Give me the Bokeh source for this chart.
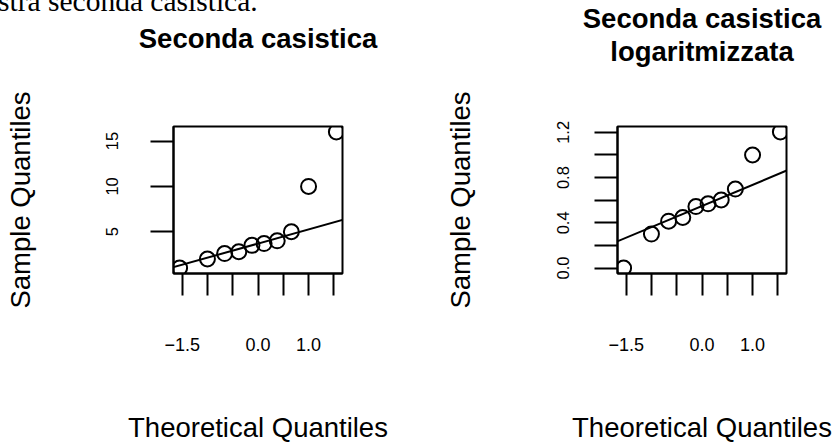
from bokeh.plotting import figure
from bokeh.models import Range1d, FixedTicker, Title, Slope, Div
from bokeh.layouts import row, column
from bokeh.embed import file_html
from bokeh.resources import INLINE

# ---- data ----
theoretical = [-1.55, -1.00, -0.66, -0.38, -0.12, 0.12, 0.38, 0.66, 1.00, 1.55]
sample = [1.0, 2.0, 2.6, 2.8, 3.5, 3.7, 4.0, 5.0, 10.0, 16.0]
sample_log = [0.0, 0.301, 0.415, 0.447, 0.544, 0.568, 0.602, 0.699, 1.0, 1.204]

x_ticks = [-1.5, -1.0, -0.5, 0.0, 0.5, 1.0, 1.5]
x_tick_labels = {-1.5: "\u22121.5", -1.0: "", -0.5: "", 0.0: "0.0", 0.5: "", 1.0: "1.0", 1.5: ""}
y_ticks_left = [5, 10, 15]
y_ticks_right = [0.0, 0.2, 0.4, 0.6, 0.8, 1.0, 1.2]
y_tick_labels_right = {0.0: "0.0", 0.2: "", 0.4: "0.4", 0.6: "", 0.8: "0.8", 1.0: "", 1.2: "1.2"}

qqline_left = {"slope": 1.557, "intercept": 3.70}
qqline_right = {"slope": 0.187, "intercept": 0.549}

title_left = "Seconda casistica"
title_right_1 = "Seconda casistica"
title_right_2 = "logaritmizzata"
x_label = "Theoretical Quantiles"
y_label = "Sample Quantiles"
top_text = "stra seconda casistica."

FONT = "Liberation Sans"
LW = 2


def title(text, standoff=0, size="27.5px"):
    return Title(text=text, align="center", text_font=FONT, text_font_size=size,
                 text_font_style="bold", text_color="black", standoff=standoff)


def make_fig(width, height, border_left, border_right, border_top, y_start, y_end,
             ylab_standoff, yaxis_label_standoff):
    p = figure(width=width, height=height,
               x_range=Range1d(-1.671, 1.671), y_range=Range1d(y_start, y_end),
               output_backend="svg", toolbar_location=None,
               min_border_left=border_left, min_border_right=border_right,
               min_border_top=border_top, min_border_bottom=172)
    p.xgrid.visible = False
    p.ygrid.visible = False
    p.outline_line_color = "black"
    p.outline_line_width = LW
    p.outline_line_alpha = 1.0
    p.background_fill_color = "white"
    p.border_fill_color = "white"
    p.title.text_font = FONT
    p.title.text_font_size = "27.5px"
    p.title.text_font_style = "bold"
    p.title.text_color = "black"
    p.title.align = "center"
    p.title.standoff = 0
    for ax in (p.xaxis[0], p.yaxis[0]):
        ax.axis_line_color = "black"
        ax.axis_line_width = LW
        ax.major_tick_line_color = "black"
        ax.major_tick_line_width = LW
        ax.major_tick_in = 0
        ax.minor_tick_in = 0
        ax.minor_tick_out = 0
        ax.major_label_text_font = FONT
        ax.major_label_text_color = "black"
        ax.axis_label_text_font = FONT
        ax.axis_label_text_font_size = "27.5px"
        ax.axis_label_text_font_style = "normal"
        ax.axis_label_text_color = "black"
    xa = p.xaxis[0]
    xa.ticker = FixedTicker(ticks=x_ticks)
    xa.major_label_overrides = x_tick_labels
    xa.major_label_text_font_size = "18px"
    xa.major_tick_out = 22
    xa.major_label_standoff = 42
    xa.axis_label = x_label
    xa.axis_label_standoff = 58
    xa.axis_label_text_line_height = 1.0
    xa.major_label_text_line_height = 1.0
    ya = p.yaxis[0]
    ya.major_label_text_font_size = "16.5px"
    ya.major_tick_out = 23
    ya.major_label_orientation = "vertical"
    ya.major_label_standoff = ylab_standoff
    ya.axis_label = y_label
    ya.axis_label_standoff = yaxis_label_standoff
    return p


# ---- left panel (below a clipped strip of document text) ----
p1 = make_fig(437, 433, 173, 95, 114, 0.4, 16.6, 32, 68)
p1.yaxis[0].ticker = FixedTicker(ticks=y_ticks_left)
p1.title.text = title_left
p1.add_layout(title(" ", standoff=70, size="1px"), "above")
p1.scatter(theoretical, sample, size=15, marker="circle", fill_color=None,
           line_color="black", line_width=LW)
p1.add_layout(Slope(gradient=qqline_left["slope"], y_intercept=qqline_left["intercept"],
                    line_color="black", line_width=LW))

top = Div(
    text=('<div style="position:relative; top:-13px; left:-2px; white-space:nowrap; '
          'font-family:\'Liberation Serif\'; font-size:29.5px; line-height:29px; color:black;">'
          + top_text + '</div>'),
    width=437, height=12, margin=0,
    styles={"overflow": "hidden"},
)

# ---- right panel ----
p2 = make_fig(398, 445, 180, 49, 126, -0.048, 1.252, 25, 79)
p2.yaxis[0].ticker = FixedTicker(ticks=y_ticks_right)
p2.yaxis[0].major_label_overrides = y_tick_labels_right
p2.title.text = title_right_1
p2.add_layout(title(" ", standoff=57, size="1px"), "above")
p2.add_layout(title(title_right_2, standoff=0), "above")
p2.scatter(theoretical, sample_log, size=15, marker="circle", fill_color=None,
           line_color="black", line_width=LW)
p2.add_layout(Slope(gradient=qqline_right["slope"], y_intercept=qqline_right["intercept"],
                    line_color="black", line_width=LW))

layout = row(column(top, p1, spacing=0), p2, spacing=0)
open("out.html", "w").write(file_html(layout, INLINE))
